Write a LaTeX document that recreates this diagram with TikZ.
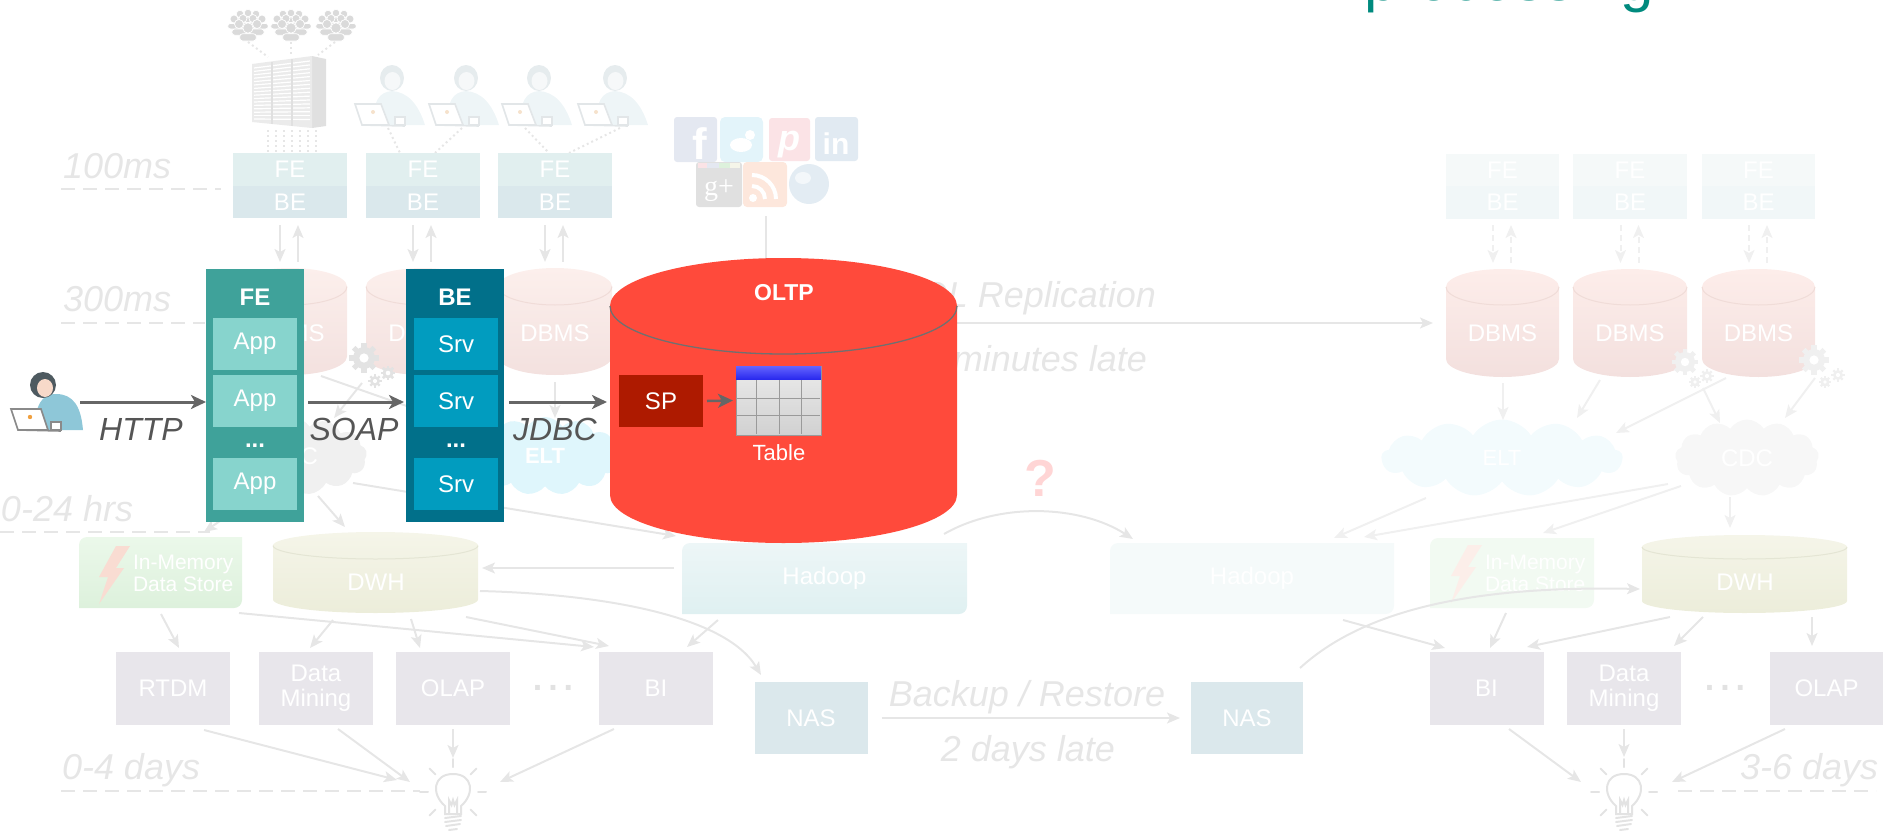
\documentclass[tikz,border=0pt]{standalone}
\usepackage{fontspec}
\setmainfont{Liberation Sans}
\newfontfamily\serifglyph{Liberation Serif}
\usetikzlibrary{arrows.meta,shapes.symbols,calc}

% palette
\definecolor{fadeline}{HTML}{E6E6E6}
\definecolor{fadelineR}{HTML}{F0F0F0}
\definecolor{fadetext}{HTML}{E6E6E6}
\definecolor{fefade}{HTML}{E1EFEF}
\definecolor{befade}{HTML}{DAE8EC}
\definecolor{fefadeR}{HTML}{F5F9F9}
\definecolor{befadeR}{HTML}{F1F7F8}
\definecolor{dbmsT}{HTML}{FCEFEC}
\definecolor{dbmsB}{HTML}{F3E1DF}
\definecolor{dbmsRim}{HTML}{F0DCD8}
\definecolor{dbmsRT}{HTML}{FDEDEA}
\definecolor{dbmsRB}{HTML}{F3E0DE}
\definecolor{toolc}{HTML}{E8E6EB}
\definecolor{nasc}{HTML}{DBE8EC}
\definecolor{hadoopT}{HTML}{EDF6F7}
\definecolor{hadoopB}{HTML}{DFF0F1}
\definecolor{hadoopR}{HTML}{F5FAFA}
\definecolor{inmemT}{HTML}{EBF8EA}
\definecolor{inmemB}{HTML}{DDF1DC}
\definecolor{inmemR}{HTML}{F2FAF2}
\definecolor{dwhT}{HTML}{F5F5E9}
\definecolor{dwhB}{HTML}{ECEDDA}
\definecolor{dwhRim}{HTML}{E4E5D4}
\definecolor{eltc}{HTML}{DFF6FC}
\definecolor{eltR}{HTML}{F3FBFD}
\definecolor{cdcc}{HTML}{F0F0F0}
\definecolor{cdcR}{HTML}{F7F7F7}
\definecolor{gearc}{HTML}{E3E3E3}
\definecolor{gearR}{HTML}{F0F0F0}
\definecolor{boltc}{HTML}{F9DCD2}
\definecolor{boltR}{HTML}{FCEEE9}
\definecolor{bulbc}{HTML}{E3E3E3}
\definecolor{crowdc}{HTML}{DADADA}
\definecolor{serverc}{HTML}{EBEBEB}
\definecolor{serverside}{HTML}{E0E0E0}
\definecolor{userbody}{HTML}{EEF5F7}
\definecolor{userhair}{HTML}{E6ECEE}
\definecolor{userface}{HTML}{F6F8F9}
\definecolor{userline}{HTML}{E2E6E8}
\definecolor{userdot}{HTML}{F6E2CC}
\definecolor{feteal}{HTML}{3FA29A}
\definecolor{appc}{HTML}{87D4CD}
\definecolor{bedark}{HTML}{01708A}
\definecolor{srvc}{HTML}{019CBF}
\definecolor{oltpc}{HTML}{FF4A3B}
\definecolor{oltprim}{HTML}{707070}
\definecolor{spc}{HTML}{AE1A00}
\definecolor{darkarrow}{HTML}{666666}
\definecolor{labelc}{HTML}{555555}
\definecolor{qpink}{HTML}{FFD5D5}
\definecolor{dotc}{HTML}{E2E2E2}
\definecolor{fbc}{HTML}{E4E8F1}
\definecolor{twc}{HTML}{E3F4FA}
\definecolor{pinc}{HTML}{FBE3E6}
\definecolor{lic}{HTML}{E1EAF2}
\definecolor{gpc}{HTML}{E0E0E0}
\definecolor{rssc}{HTML}{FDE7DC}
\definecolor{globec}{HTML}{E3ECF3}
\definecolor{persbody}{HTML}{8EC7D8}
\definecolor{pershair}{HTML}{4E5A60}
\definecolor{persface}{HTML}{F7D9C9}
\definecolor{laptopline}{HTML}{8A8A8A}
\definecolor{laptopdot}{HTML}{F0A040}
\definecolor{tblT}{HTML}{6464FF}
\definecolor{tblB}{HTML}{2A2AEE}
\definecolor{tblgrid}{HTML}{9A9A9A}
\definecolor{titlec}{HTML}{008A7E}

\newcommand{\fsz}[1]{\fontsize{#1}{#1}\selectfont}

% cylinder outline: x1, x2, ytop, ybottom, ry, fill options, rim options
\newcommand{\cylbody}[7]{%
  \path[#6] (#1,{#3+#5}) -- (#1,{#4-#5})
    arc[start angle=180,end angle=0,x radius={(#2-#1)/2},y radius=#5]
    -- (#2,{#3+#5})
    arc[start angle=0,end angle=-180,x radius={(#2-#1)/2},y radius=#5] -- cycle;
  \draw[#7] (#2,{#3+#5})
    arc[start angle=0,end angle=180,x radius={(#2-#1)/2},y radius=#5];
}

% box with two rounded diagonal corners (top left, bottom right): node name, fill options
\newcommand{\roundedpair}[2]{%
  \path[#2] (#1.north east) [rounded corners=8pt] -- (#1.south east) [sharp corners] -- (#1.south west)
    [rounded corners=8pt] -- (#1.north west) [sharp corners] -- cycle;
}

% toothed wheel: x, y, radius, colour
\newcommand{\gearwheel}[4]{%
  \fill[#4] (#1,#2) circle ({#3});
  \foreach \a in {0,45,90,135}
    \fill[#4,rotate around={\a:(#1,#2)}] ({#1-0.24*#3},{#2-1.32*#3}) rectangle ({#1+0.24*#3},{#2+1.32*#3});
  \fill[white] (#1,#2) circle ({0.42*#3});
}

% a little crowd of people, top-left corner at (x,y)
\newcommand{\crowdicon}[2]{%
  \begin{scope}[shift={(#1,#2)}]
    \foreach \px/\py/\rr in {12/4/3.8,20/3/3.8,28/4/3.8,6/9/4,15/8.5/4,25/8.5/4,34/9/4,11/14/4.5,29/14/4.5,20/18/5.2}{
      \filldraw[fill=crowdc,draw=white,line width=0.7pt,rounded corners=3pt]
        ({\px-1.6*\rr},{\py+1.1*\rr}) rectangle ({\px+1.6*\rr},{\py+2.5*\rr});
      \filldraw[fill=crowdc,draw=white,line width=0.7pt] (\px,\py) circle (\rr);
    }
  \end{scope}}

% pale user with a laptop, top-left corner at (x,y)
\newcommand{\usericon}[2]{%
  \begin{scope}[shift={(#1,#2)}]
    \fill[userbody] (18,60) .. controls (18,36) and (24,27) .. (37,26) .. controls (52,27) and (63,38) .. (70,60) -- cycle;
    \fill[userhair] (37,13) ellipse [x radius=12,y radius=13];
    \fill[userface] (37.5,16) ellipse [x radius=8,y radius=9];
    \filldraw[fill=white,draw=userline,line width=1.6pt] (0,39) -- (26,39) -- (34,60) -- (7,60) -- cycle;
    \draw[userline,line width=1.6pt] (7,60) -- (50,61);
    \filldraw[fill=white,draw=userline,line width=1.2pt] (40,52) rectangle (50,60);
    \fill[userdot] (18,47) circle (2);
  \end{scope}}

% lightning bolt, top-left corner at (x,y), colour
\newcommand{\bolt}[3]{%
  \fill[#3,shift={(#1,#2)}] (22,0) -- (36,0) -- (22,22) -- (30,22) -- (5,58) -- (14,31) -- (5,31) -- cycle;
}

% light bulb with rays, glass centre (x,y)
\newcommand{\bulb}[2]{%
  \begin{scope}[draw=bulbc,line width=2pt,line cap=round]
    \draw ({#1-8},{#2+14}) .. controls ({#1-22},{#2+2}) and ({#1-20},{#2-18}) .. (#1,{#2-18})
          .. controls ({#1+20},{#2-18}) and ({#1+22},{#2+2}) .. ({#1+8},{#2+14}) -- ({#1+8},{#2+22}) -- ({#1-8},{#2+22}) -- cycle;
    \draw ({#1-4},{#2+22}) -- ({#1-4},{#2+8}) -- ({#1-1.5},{#2+13}) -- ({#1},{#2+8}) -- ({#1+1.5},{#2+13}) -- ({#1+4},{#2+8}) -- ({#1+4},{#2+22});
    \draw ({#1-8},{#2+26}) -- ({#1+8},{#2+24});
    \draw ({#1-8},{#2+30}) -- ({#1+8},{#2+28});
    \draw ({#1-7},{#2+34}) -- ({#1+7},{#2+32});
    \draw ({#1-4},{#2+38}) -- ({#1+4},{#2+37});
    \foreach \a in {0,180,-90,-45,-135,45,135}
      \draw ($(#1,#2)+(\a:25)$) -- ($(#1,#2)+(\a:33)$);
  \end{scope}}

\begin{document}
\begin{tikzpicture}[x=1pt,y=-1pt,
  every node/.style={inner sep=0pt,outer sep=0pt},
  fa/.style={draw=fadeline,line width=2pt,-{Stealth[length=13pt,width=11pt,inset=3pt]}},
  faR/.style={fa,draw=fadelineR},
  fadash/.style={faR,dash pattern=on 6pt off 4pt},
  da/.style={draw=darkarrow,line width=3pt,-{Stealth[length=15pt,width=14pt,inset=4pt]}},
  tline/.style={draw=fadeline,line width=2pt,dash pattern=on 14pt off 8pt},
  tlabel/.style={text=fadetext,font=\fsz{36}\itshape},
  dotl/.style={draw=fadeline,line width=2pt,dash pattern=on 2pt off 3pt},
  wtxt/.style={text=white,font=\fsz{24}},
  fbox/.style={wtxt,minimum width=114,minimum height=33},
  tool/.style={text=white,fill=toolc,minimum width=114,minimum height=73,align=center,font=\fontsize{24}{25}\selectfont},
  nasbox/.style={wtxt,fill=nasc,minimum width=113,minimum height=72},
  appbox/.style={wtxt,fill=appc,minimum width=84,minimum height=52},
  srvbox/.style={wtxt,fill=srvc,minimum width=84,minimum height=52},
  cloudy/.style={cloud,cloud puffs=13,cloud puff arc=115,cloud ignores aspect,wtxt},
]
\useasboundingbox (0,0) rectangle (1883,838);

% ---------- slide title, running off the top edge ----------
\node[text=titlec,font=\fsz{60},anchor=base west] (title) at (1364,0.5) {processing};

% ---------- latency scale on the left / right ----------
\node[tlabel,anchor=base west] (t100) at (63,178) {100ms};
\draw[tline] (61,189) -- (221,189);
\node[tlabel,anchor=base west] (t300) at (63,311) {300ms};
\draw[tline] (61,323) -- (205,323);
\node[tlabel,anchor=base west] (t024) at (1,521) {0-24 hrs};
\draw[tline] (0,532) -- (210,532);
\node[tlabel,anchor=base west] (t04) at (62,779) {0-4 days};
\draw[tline] (61,791) -- (420,791);
\node[tlabel,anchor=base west] (t36) at (1740,779) {3-6 days};
\draw[tline] (1678,791) -- (1876,791);

% ---------- crowds, server rack and users ----------
\crowdicon{228}{10}
\crowdicon{271}{10}
\crowdicon{316}{10}
\draw[dotl] (248,42) -- (268,57);
\draw[dotl] (291,42) -- (291,54);
\draw[dotl] (335,42) -- (318,55);

\fill[serverside] (312,56) -- (326,59) -- (326,126) -- (312,128) -- cycle;
\fill[serverc] (252,64) -- (312,56) -- (312,128) -- (252,122) -- cycle;
\foreach \k in {0,...,15}
  \draw[white,line width=1.2pt] (254,{68+3.4*\k}) -- (310,{61+3.9*\k});
\draw[serverside,line width=1.5pt] (272,62) -- (272,124);
\draw[serverside,line width=1.5pt] (292,59) -- (292,126);
\foreach \xx in {268,276,...,316}
  \draw[dotl] (\xx,130) -- (\xx,152);

\usericon{355}{65}
\usericon{429}{65}
\usericon{502}{65}
\usericon{578}{65}
\draw[dotl] (388,128) -- (400,153);
\draw[dotl] (462,128) -- (435,153);
\draw[dotl] (525,128) -- (549,153);
\draw[dotl] (620,128) -- (569,153);

% ---------- social media icons ----------
\fill[fbc,rounded corners=3pt] (674,117) rectangle (717,162);
\node[text=white,font=\fsz{44}\bfseries,anchor=base] (fbf) at (700,159) {f};
\fill[twc,rounded corners=5pt] (720,117) rectangle (763,162);
\fill[white] (741,145) ellipse [x radius=11,y radius=7];
\fill[white] (750,135) circle (5);
\fill[pinc,rounded corners=3pt] (769,118) rectangle (810,161);
\node[text=white,font=\fsz{36}\bfseries\itshape,anchor=base] (pinp) at (789,150) {p};
\fill[lic,rounded corners=3pt] (815,117) rectangle (858,161);
\node[text=white,font=\fsz{30}\bfseries,anchor=base] (lin) at (836,154) {in};
\fill[gpc,rounded corners=3pt] (696,162) rectangle (742,207);
\fill[pinc] (698,163) rectangle (707,168);
\fill[fbc] (707,163) rectangle (719,168);
\fill[inmemB] (719,163) rectangle (730,168);
\fill[dwhT] (730,163) rectangle (740,168);
\node[text=white,font=\fsz{28}\serifglyph,anchor=base] (gplus) at (719,195) {g+};
\fill[rssc,rounded corners=4pt] (743,162) rectangle (787,207);
\fill[white] (753,198) circle (4);
\draw[white,line width=4pt] (752,186) arc [start angle=-90,end angle=0,radius=13];
\draw[white,line width=4pt] (752,175) arc [start angle=-90,end angle=0,radius=24];
\fill[globec] (809,184) circle (20);
\fill[white,opacity=0.6] (803,178) ellipse [x radius=8,y radius=6];
\draw[fadeline,line width=2pt] (766,216) -- (766,260);

% ---------- web tier boxes (left) ----------
\node[fbox,fill=fefade] (fe1) at (290,169.5) {FE};
\node[fbox,fill=befade,minimum height=32] (be1) at (290,202) {BE};
\node[fbox,fill=fefade] (fe2) at (423,169.5) {FE};
\node[fbox,fill=befade,minimum height=32] (be2) at (423,202) {BE};
\node[fbox,fill=fefade] (fe3) at (555,169.5) {FE};
\node[fbox,fill=befade,minimum height=32] (be3) at (555,202) {BE};

% ---------- web tier boxes (right) ----------
\node[fbox,fill=fefadeR,minimum width=113,minimum height=32] (feR1) at (1502.5,170) {FE};
\node[fbox,fill=befadeR,minimum width=113] (beR1) at (1502.5,202.5) {BE};
\node[fbox,fill=fefadeR,minimum height=32] (feR2) at (1630,170) {FE};
\node[fbox,fill=befadeR] (beR2) at (1630,202.5) {BE};
\node[fbox,fill=fefadeR,minimum width=113,minimum height=32] (feR3) at (1758.5,170) {FE};
\node[fbox,fill=befadeR,minimum width=113] (beR3) at (1758.5,202.5) {BE};

% ---------- DBMS cylinders ----------
\cylbody{233}{347}{268}{375}{18.5}{top color=dbmsT,bottom color=dbmsB}{draw=dbmsRim,line width=1pt}
\cylbody{366}{480}{268}{375}{18.5}{top color=dbmsT,bottom color=dbmsB}{draw=dbmsRim,line width=1pt}
\cylbody{498}{612}{268}{375}{18.5}{top color=dbmsT,bottom color=dbmsB}{draw=dbmsRim,line width=1pt}
\coordinate (dbL1) at (290,268);
\coordinate (dbL2) at (423,268);
\coordinate (dbL3) at (555,268);
\node[wtxt] (dbL1t) at (290,333) {DBMS};
\node[wtxt] (dbL2t) at (423,333) {DBMS};
\node[wtxt] (dbL3t) at (555,333) {DBMS};

\cylbody{1446}{1559}{269}{377}{18}{top color=dbmsRT,bottom color=dbmsRB}{draw=dbmsRim,line width=1pt}
\cylbody{1573}{1687}{269}{377}{18}{top color=dbmsRT,bottom color=dbmsRB}{draw=dbmsRim,line width=1pt}
\cylbody{1702}{1815}{269}{377}{18}{top color=dbmsRT,bottom color=dbmsRB}{draw=dbmsRim,line width=1pt}
\coordinate (dbR1) at (1502.5,269);
\coordinate (dbR2) at (1630,269);
\coordinate (dbR3) at (1758.5,269);
\node[wtxt] (dbR1t) at (1502.5,333) {DBMS};
\node[wtxt] (dbR2t) at (1630,333) {DBMS};
\node[wtxt] (dbR3t) at (1758.5,333) {DBMS};

% web tier <-> DBMS
\foreach \n in {1,2,3}{
  \draw[fa] ([xshift=-10pt,yshift=-7pt]be\n.south) -- ([xshift=-10pt,yshift=6pt]dbL\n);
  \draw[fa] ([xshift=8pt,yshift=6pt]dbL\n) -- ([xshift=8pt,yshift=-7pt]be\n.south);
  \draw[fadash] ([xshift=-9.5pt,yshift=-6pt]beR\n.south) -- ([xshift=-9.5pt,yshift=6pt]dbR\n);
  \draw[fadash] ([xshift=8.5pt,yshift=6pt]dbR\n) -- ([xshift=8.5pt,yshift=-6pt]beR\n.south);
}

% ---------- gears ----------
\gearwheel{364}{358}{11}{gearc}
\gearwheel{375}{381}{5}{gearc}
\gearwheel{388}{373}{5.5}{gearc}
\gearwheel{1685}{362}{10}{gearR}
\gearwheel{1695}{382}{4.5}{gearR}
\gearwheel{1707}{376}{5}{gearR}
\gearwheel{1814}{360}{11}{gearR}
\gearwheel{1825}{382}{4.5}{gearR}
\gearwheel{1838}{375}{5}{gearR}

% ---------- ELT / CDC clouds ----------
\node[cloudy,fill=cdcc,minimum width=150,minimum height=78] (cdc1) at (292,456) {CDC};
\node[cloudy,fill=eltc,minimum width=150,minimum height=78,font=\fsz{22}\bfseries] (elt1) at (545,456) {ELT};
\node[cloudy,fill=eltR,minimum width=241,minimum height=77,font=\fsz{22}] (elt2) at (1502,458) {ELT};
\node[cloudy,fill=cdcR,minimum width=144,minimum height=77] (cdc2) at (1747,458) {CDC};

\draw[fa] (362,383) -- (334,418);
\draw[fa] (321,376) -- (478,431);
\draw[fa] (555,382) -- (555,418);
\draw[faR] (1503,383) -- (1503,420);
\draw[faR] (1600,380) -- (1577,418);
\draw[faR] (1726,378) -- (1616,433);
\draw[faR] (1703,388) -- (1720,423);
\draw[faR] (1815,378) -- (1785,418);

% ---------- analytics tier (left) ----------
\node[minimum width=163,minimum height=71] (inmem1) at (160.5,572.5) {};
\roundedpair{inmem1}{top color=inmemT,bottom color=inmemB}
\bolt{94}{546}{boltc}
\node[text=white,font=\fontsize{21}{22}\selectfont,align=left,anchor=west] (inmem1t) at (133,573) {In-Memory\\Data Store};

\cylbody{273}{478}{532}{613}{13.5}{top color=dwhT,bottom color=dwhB}{draw=dwhRim,line width=1pt}
\node[wtxt] (dwh1t) at (376,582) {DWH};

\node[minimum width=285,minimum height=71] (hadoop1) at (824.5,578.5) {};
\roundedpair{hadoop1}{top color=hadoopT,bottom color=hadoopB}
\node[wtxt] (hadoop1t) at (hadoop1) {Hadoop};
\node[minimum width=284,minimum height=71] (hadoop2) at (1252,578.5) {};
\roundedpair{hadoop2}{fill=hadoopR}
\node[wtxt] (hadoop2t) at (hadoop2) {Hadoop};

\node[tool] (rtdm) at (173,688.5) {RTDM};
\node[tool] (dm1) at (316,688.5) {Data\\Mining};
\node[tool] (olap1) at (453,688.5) {OLAP};
\node[text=dotc,font=\fsz{34}\bfseries] (ell1) at (553,688) {.\hspace{6pt}.\hspace{6pt}.};
\node[tool] (bi1) at (656,688.5) {BI};
\node[nasbox] (nas1) at (811,718) {NAS};
\node[nasbox,minimum width=112] (nas2) at (1247,718) {NAS};

\bulb{453}{792}
\bulb{1624}{792}

\draw[fa] (262,492) -- (204,532);
\draw[fa] (318,496) -- (345,527);
\draw[fa] (353,483) -- (676,536);
\draw[fa] (674,568) -- (482,568);
\draw[fa] (161,614) -- (179,648);
\draw[fa] (239,613) -- (594,647);
\draw[fa] (333,620) -- (310,648);
\draw[fa] (411,619) -- (420,648);
\draw[fa] (466,617) -- (609,646);
\draw[fa] (718,620) -- (687,647);
\draw[fa] (480,591) .. controls (600,594) and (725,615) .. (761,675);
\draw[fa] (204,730) -- (397,780);
\draw[fa] (338,729) -- (410,782);
\draw[fa] (453,729) -- (453,758);
\draw[fa] (614,729) -- (500,782);

% backup between the two sites
\draw[fa] ([xshift=14pt]nas1.east) -- ([xshift=-11pt]nas2.west);
\node[tlabel,anchor=base] (backup) at (1027,706) {Backup / Restore};
\node[tlabel,anchor=base] (late2) at (1028,761) {2 days late};
\node[text=qpink,font=\fsz{52}\bfseries] (qm) at (1040,478) {?};
\draw[fa] (944,534) .. controls (1000,502) and (1080,505) .. (1133,539);

% ---------- analytics tier (right) ----------
\node[minimum width=164,minimum height=70] (inmem2) at (1512,573) {};
\roundedpair{inmem2}{fill=inmemR}
\bolt{1446}{545}{boltR}
\node[text=white,font=\fontsize{21}{22}\selectfont,align=left,anchor=west] (inmem2t) at (1485,573) {In-Memory\\Data Store};
\cylbody{1642}{1847}{535}{613}{12}{top color=dwhT,bottom color=dwhB}{draw=dwhRim,line width=1pt}
\node[wtxt] (dwh2t) at (1745,582) {DWH};

\node[tool] (bi2) at (1486.5,688.5) {BI};
\node[tool] (dm2) at (1624,688.5) {Data\\Mining};
\node[text=dotc,font=\fsz{34}\bfseries] (ell2) at (1725,688) {.\hspace{6pt}.\hspace{6pt}.};
\node[tool,minimum width=113] (olap2) at (1826.5,688.5) {OLAP};

\draw[faR] (1426,498) -- (1334,538);
\draw[faR] (1668,484) -- (1364,537);
\draw[faR] (1681,486) -- (1543,533);
\draw[faR] (1730,497) -- (1730,528);
\draw[fa] (1300,668) .. controls (1370,604) and (1490,586) .. (1640,589);
\draw[fa] (1343,620) -- (1445,648);
\draw[fa] (1506,613) -- (1490,648);
\draw[fa] (1670,617) -- (1527,647);
\draw[fa] (1703,617) -- (1674,646);
\draw[fa] (1812,617) -- (1812,646);
\draw[fa] (1509,729) -- (1581,782);
\draw[fa] (1624,729) -- (1624,757);
\draw[fa] (1785,729) -- (1672,782);

% ---------- replication to the second site ----------
\draw[fa] (940,323) -- (1433,323);
\node[tlabel,anchor=base east] (repl) at (1156,307) {SQL Replication};
\node[tlabel,anchor=base east] (mins) at (1147,371) {minutes late};

% ---------- request path: user -> FE -> BE -> OLTP ----------
\coordinate (usere) at (83,402);
\begin{scope}[shift={(11,372)}]
  \fill[persbody] (24,58) .. controls (24,34) and (30,22) .. (45,22) .. controls (62,22) and (70,34) .. (72,58) -- cycle;
  \fill[pershair] (32,13) circle (13);
  \fill[persface] (34,16) ellipse [x radius=8,y radius=9];
  \filldraw[fill=white,draw=laptopline,line width=1.6pt] (0,37) -- (30,37) -- (37,58) -- (7,58) -- cycle;
  \draw[laptopline,line width=1.6pt] (7,58) -- (50,59);
  \filldraw[fill=white,draw=laptopline,line width=1.2pt] (40,50) rectangle (50,58);
  \fill[laptopdot] (19,45) circle (2.2);
\end{scope}

\node[fill=feteal,minimum width=98,minimum height=253] (fecol) at (255,395.5) {};
\node[text=white,font=\fsz{24}\bfseries] (fehead) at (255,297) {FE};
\node[appbox] (app1) at (255,344) {App};
\node[appbox] (app2) at (255,401) {App};
\node[text=white,font=\fsz{24}\bfseries,anchor=base] (fedots) at (255,447) {...};
\node[appbox] (app3) at (255,484) {App};

\node[fill=bedark,minimum width=98,minimum height=253] (becol) at (455,395.5) {};
\node[text=white,font=\fsz{24}\bfseries] (behead) at (455,297) {BE};
\node[srvbox] (srv1) at (456,344) {Srv};
\node[srvbox] (srv2) at (456,401) {Srv};
\node[text=white,font=\fsz{24}\bfseries,anchor=base] (bedots) at (456,447) {...};
\node[srvbox] (srv3) at (456,484) {Srv};

\cylbody{610}{957}{258}{543}{48}{fill=oltpc}{draw=oltprim,line width=1.3pt}
\coordinate (oltpw) at (610,402);
\node[text=white,font=\fsz{23}\bfseries] (oltpt) at (784,293) {OLTP};
\node[wtxt,fill=spc,minimum width=84,minimum height=52] (sp) at (661,401) {SP};
\node[draw=tblgrid,line width=1pt,top color=white!92!black,bottom color=white!82!black,minimum width=85,minimum height=69] (tbl) at (778.5,400.5) {};
\shade[top color=tblT,bottom color=tblB] (tbl.north west) rectangle ([yshift=-13pt]tbl.north east);
\foreach \xx in {756,779,801}
  \draw[tblgrid,line width=0.8pt] (\xx,380) -- (\xx,434);
\foreach \yy in {398,415}
  \draw[tblgrid,line width=0.8pt] (737,\yy) -- (820,\yy);
\node[text=white,font=\fsz{22}] (tbllab) at (779,453) {Table};
\draw[da,line width=2.5pt] ([xshift=4pt]sp.east) -- ([xshift=-3pt]tbl.west);

\draw[da] ([xshift=-3pt]usere) -- ([yshift=-6.5pt]fecol.west);
\draw[da] ([xshift=4pt,yshift=-6.5pt]fecol.east) -- ([xshift=-2pt,yshift=-6.5pt]becol.west);
\draw[da] ([xshift=5pt,yshift=-6.5pt]becol.east) -- ([xshift=-3pt]oltpw);
\node[text=labelc,font=\fsz{32}\itshape,anchor=base] (http) at (141,440) {HTTP};
\node[text=labelc,font=\fsz{32}\itshape,anchor=base] (soap) at (354,440) {SOAP};
\node[text=labelc,font=\fsz{32}\itshape,anchor=base] (jdbc) at (555,440) {JDBC};

\end{tikzpicture}
\end{document}
